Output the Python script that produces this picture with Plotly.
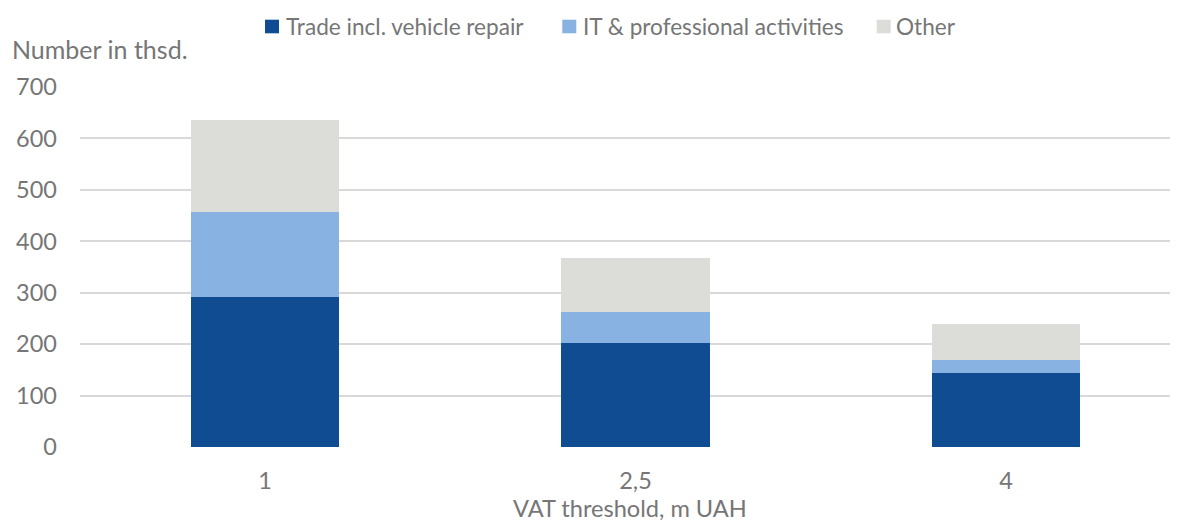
import plotly.graph_objects as go

categories = ["1", "2,5", "4"]
trade = [292, 203, 144]
it_prof = [165, 60, 26]
other = [179, 105, 69]
series_names = ["Trade incl. vehicle repair", "IT & professional activities", "Other"]
colors = ["#0F4C91", "#88B2E2", "#DCDCD8"]
y_ticks = [0, 100, 200, 300, 400, 500, 600, 700]

FONT = "Lato"
TXT = "#767676"

# plot-area geometry in window pixels (page body has an 8px margin)
PX_L, PX_R, PX_T, PX_B = 80, 1178, 87, 447


def px(x):
    return (x - PX_L) / (PX_R - PX_L)


def py(y):
    return (PX_B - y) / (PX_B - PX_T)


fig = go.Figure()
for name, vals, col in zip(series_names, [trade, it_prof, other], colors):
    fig.add_trace(go.Bar(
        x=categories, y=vals, name=name,
        marker=dict(color=col, line=dict(width=0)),
        width=0.4, showlegend=False,
    ))

# legend drawn manually (square + label) to match the reference spacing
legend_sq_left = [265, 562.3, 876.7]
legend_txt_left = [284, 581, 894]
shapes = []
annotations = []
for name, col, sx, tx in zip(series_names, colors, legend_sq_left, legend_txt_left):
    shapes.append(dict(type="rect", xref="paper", yref="paper",
                       x0=px(sx), x1=px(sx + 14), y0=py(33.3), y1=py(19.7),
                       fillcolor=col, line=dict(width=0)))
    annotations.append(dict(text=name, xref="paper", yref="paper",
                            x=px(tx), y=py(26.5), xanchor="left", yanchor="middle",
                            showarrow=False, font=dict(size=22.6, color=TXT)))

annotations.append(dict(text="Number in thsd.", xref="paper", yref="paper",
                        x=px(10), y=py(49), xanchor="left", yanchor="middle",
                        showarrow=False, font=dict(size=25, color=TXT)))
annotations.append(dict(text="VAT threshold, m UAH", xref="paper", yref="paper",
                        x=px(630), y=py(508), xanchor="center", yanchor="middle",
                        showarrow=False, font=dict(size=23.6, color=TXT)))

fig.update_layout(
    width=1170, height=515,
    barmode="stack",
    plot_bgcolor="white", paper_bgcolor="white",
    margin=dict(l=72, r=0, t=79, b=76),
    font=dict(family=FONT, color=TXT, size=23),
    showlegend=False,
    xaxis=dict(
        type="category", range=[-0.4993, 2.464],
        showgrid=False, zeroline=False, showline=False,
        ticks="", tickfont=dict(size=23.5, color=TXT),
        ticklabelstandoff=17,
    ),
    yaxis=dict(
        range=[0, 700], tickvals=y_ticks,
        showgrid=True, gridcolor="#D9D9D9", gridwidth=1.5,
        zeroline=False, showline=False, ticks="",
        tickfont=dict(size=23.5, color=TXT),
        ticklabelstandoff=22,
    ),
    shapes=shapes,
    annotations=annotations,
)

fig.write_html("out.html")
